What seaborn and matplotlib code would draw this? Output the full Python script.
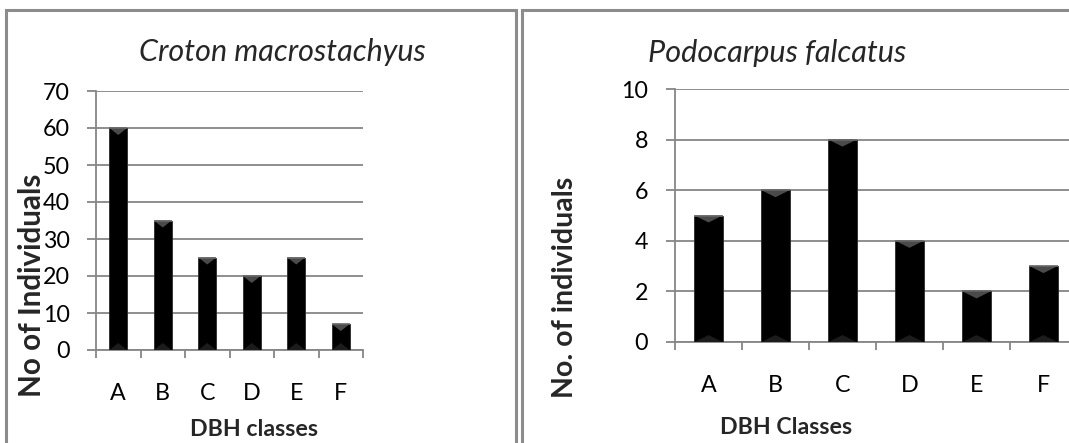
import matplotlib
matplotlib.use("Agg")
import matplotlib.pyplot as plt
import seaborn as sns
import pandas as pd
import numpy as np
from matplotlib.patches import Rectangle, Polygon

# ---- data ----
classes = ["A", "B", "C", "D", "E", "F"]
croton_counts = [60, 35, 25, 20, 25, 7]
podo_counts = [5, 6, 8, 4, 2, 3]
croton_title = "Croton macrostachyus"
podo_title = "Podocarpus falcatus"
croton_ylabel = "No of Individuals"
podo_ylabel = "No. of individuals"
croton_xlabel = "DBH classes"
podo_xlabel = "DBH Classes"
croton_yticks = [0, 10, 20, 30, 40, 50, 60, 70]
podo_yticks = [0, 2, 4, 6, 8, 10]

sns.set_theme(style="white")
plt.rcParams["font.family"] = ["Lato", "DejaVu Sans"]

W, H = 1069, 443
DPI = 100
fig = plt.figure(figsize=(W / DPI, H / DPI), dpi=DPI)
renderer = fig.canvas.get_renderer()

def px(x, y):
    return x / W, 1 - y / H

def pt(pixels):
    return pixels * 72.0 / DPI

def fit_size(text, target, rotation=0, **kw):
    """font size so that the rendered text spans `target` pixels along its run"""
    t = fig.text(0, 0, text, fontsize=20, **kw)
    bb = t.get_window_extent(renderer)
    t.remove()
    return 20 * target / bb.width

GRID = "#868686"
TICK_FS = fit_size("70", 27)

def make_axes(left, right, top, bottom):
    x0, y0 = px(left, bottom)
    x1, y1 = px(right, top)
    return fig.add_axes([x0, y0, x1 - x0, y1 - y0])

def style(ax, counts, yticks, width, ylab_gap, top_px, bottom_px):
    df = pd.DataFrame({"cls": classes, "n": counts})
    sns.barplot(data=df, x="cls", y="n", color="black", width=width,
                ax=ax, saturation=1, edgecolor="#2a2a2a", linewidth=0.6, zorder=3)
    ax.set_xlim(-0.5, len(classes) - 0.5)
    ax.set_ylim(yticks[0], yticks[-1])
    ax.set_yticks(yticks)
    ax.set_yticklabels([str(t) for t in yticks], fontsize=TICK_FS, color="black")
    ax.set_xticks(range(len(classes)))
    ax.set_xticklabels(classes, fontsize=TICK_FS, color="black")
    ax.set_xticks(np.arange(-0.5, len(classes) + 0.5, 1), minor=True)
    ax.tick_params(axis="x", which="major", length=0, pad=pt(33))
    ax.tick_params(axis="x", which="minor", length=pt(8), width=1.3, color=GRID,
                   direction="out", bottom=True)
    ax.tick_params(axis="y", length=pt(9), width=1.3, color=GRID, direction="out",
                   pad=pt(ylab_gap), left=True)
    ax.yaxis.grid(True, color=GRID, linewidth=1.3, zorder=0)
    ax.set_axisbelow(True)
    for s in ["top", "right"]:
        ax.spines[s].set_visible(False)
    for s in ["left", "bottom"]:
        ax.spines[s].set_color(GRID)
        ax.spines[s].set_linewidth(1.3)
    ax.set_xlabel("")
    ax.set_ylabel("")
    # bevel shading derived from each bar's own geometry
    per_px = (yticks[-1] - yticks[0]) / (bottom_px - top_px)
    for p in list(ax.patches):
        bx, by, bw, bh = p.get_x(), p.get_y(), p.get_width(), p.get_height()
        top = by + bh
        d = 7 * per_px
        ax.add_patch(Polygon([[bx, top], [bx + bw, top], [bx + bw * 0.5, top - d]],
                             closed=True, facecolor="#4a4a4a", edgecolor="none", zorder=4))
        ax.add_patch(Polygon([[bx, by], [bx + bw, by], [bx + bw * 0.5, by + d]],
                             closed=True, facecolor="#1c1c1c", edgecolor="none", zorder=4))
        ax.plot([bx, bx + bw], [top, top], color="#666666", lw=1.2, zorder=5,
                solid_capstyle="butt")

# left panel
axL = make_axes(96, 363, 91, 350)
style(axL, croton_counts, croton_yticks, 0.40, 17, 91, 350)
# right panel
axR = make_axes(675, 1077, 89, 342)
style(axR, podo_counts, podo_yticks, 0.42, 18, 89, 342)

# titles and axis titles (sized to the reference's text extents)
fs = fit_size(croton_title, 287, style="italic")
fig.text(*px(282, 52), croton_title, fontsize=fs, style="italic", ha="center", va="center")
fs = fit_size(podo_title, 258, style="italic")
fig.text(*px(777, 53), podo_title, fontsize=fs, style="italic", ha="center", va="center")
fs = fit_size(croton_ylabel, 224, fontweight="bold")
fig.text(*px(32, 285), croton_ylabel, fontsize=fs, fontweight="bold", rotation=90,
         ha="center", va="center")
fs = fit_size(podo_ylabel, 221, fontweight="bold")
fig.text(*px(565, 287), podo_ylabel, fontsize=fs, fontweight="bold", rotation=90,
         ha="center", va="center")
fs = fit_size(croton_xlabel, 128, fontweight="bold")
fig.text(*px(254, 430), croton_xlabel, fontsize=fs, fontweight="bold", ha="center", va="center")
fs = fit_size(podo_xlabel, 132, fontweight="bold")
fig.text(*px(786, 428), podo_xlabel, fontsize=fs, fontweight="bold", ha="center", va="center")

# panel borders
BORDER = "#8c8c8c"
fig.patches.append(Rectangle(px(6, 460), (516 - 6) / W, (460 - 10) / H,
                             transform=fig.transFigure, fill=False,
                             edgecolor=BORDER, linewidth=2.2))
fig.patches.append(Rectangle(px(522, 460), (1100 - 522) / W, (460 - 10) / H,
                             transform=fig.transFigure, fill=False,
                             edgecolor=BORDER, linewidth=2.2))

fig.savefig("out.png", dpi=DPI)
